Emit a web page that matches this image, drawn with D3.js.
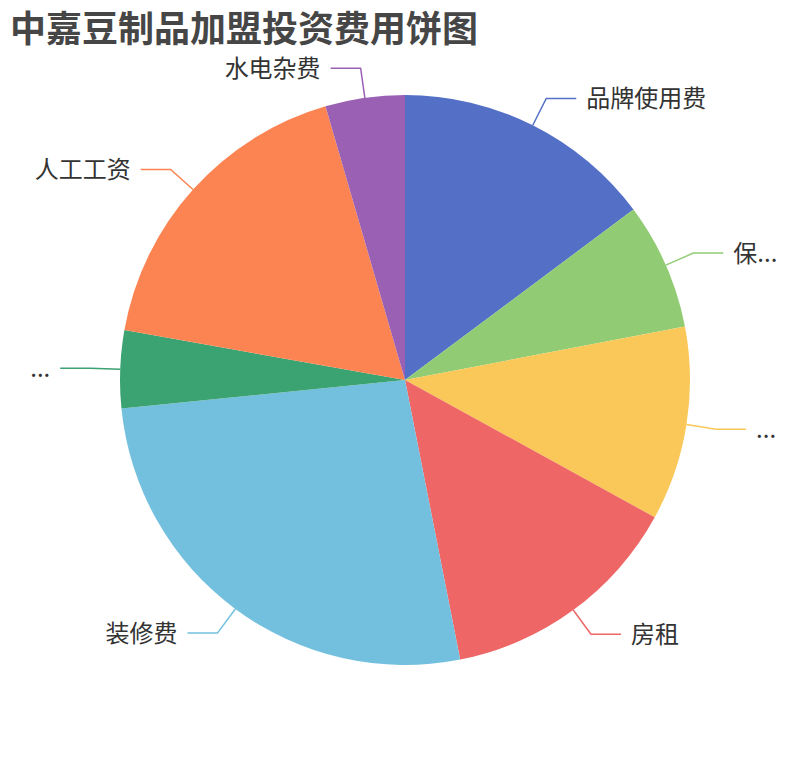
<!DOCTYPE html>
<html>
<head>
<meta charset="utf-8">
<script src="https://cdn.jsdelivr.net/npm/d3@7"></script>
<style>
  html, body { margin: 0; padding: 0; background: #fff; }
  svg { display: block; font-family: "Noto Sans CJK SC", "Noto Sans", sans-serif; }
</style>
</head>
<body>
<div id="chart"></div>
<script>
// --- 中嘉豆制品加盟投资费用饼图 ----------------------------------------------

const TITLE = '中嘉豆制品加盟投资费用饼图';

// labels as they appear (ECharts truncated the long ones)
const NAMES  = ['品牌使用费', '保...', '...', '房租', '装修费', '...', '人工工资', '水电杂费'];
// shares (per mille)
const VALUES = [148, 72, 110, 139, 265, 44, 177, 45];
const COLORS = ['#5470c6', '#91cc75', '#fac858', '#ee6666', '#73c0de', '#3ba272', '#fc8452', '#9a60b4'];

const W = 810, H = 760;
const CX = W / 2, CY = H / 2;
const R = 0.75 * Math.min(W, H) / 2;   // echarts default radius 75%
const LEN1 = 30, LEN2 = 30, GAP = 10;

const svg = d3.select('#chart').append('svg')
  .attr('width', W).attr('height', H)
  .attr('viewBox', `0 0 ${W} ${H}`);

svg.append('text')
  .attr('x', 10).attr('y', 26)
  .attr('dominant-baseline', 'central')
  .attr('font-size', 36)
  .attr('font-weight', 'bold')
  .attr('fill', '#464646')
  .text(TITLE);

const data = NAMES.map((name, i) => ({ name, value: VALUES[i], color: COLORS[i] }));

const pie = d3.pie().sort(null).value(d => d.value);
const arc = d3.arc().innerRadius(0).outerRadius(R);

const g = svg.append('g').attr('transform', `translate(${CX},${CY})`);

const slices = pie(data);

g.selectAll('path.slice')
  .data(slices)
  .join('path')
    .attr('class', 'slice')
    .attr('d', arc)
    .attr('fill', d => d.data.color);

// label lines: radial segment then horizontal one
const pt = (a, r) => [r * Math.sin(a), -r * Math.cos(a)];

slices.forEach(s => {
  const mid = (s.startAngle + s.endAngle) / 2;
  const p0 = pt(mid, R);
  const p1 = pt(mid, R + LEN1);
  const right = Math.sin(mid) >= 0;
  const p2 = [p1[0] + (right ? LEN2 : -LEN2), p1[1]];

  g.append('polyline')
    .attr('points', [p0, p1, p2].map(p => p.join(',')).join(' '))
    .attr('fill', 'none')
    .attr('stroke', s.data.color)
    .attr('stroke-width', 1.5);

  g.append('text')
    .attr('x', p2[0] + (right ? GAP : -GAP))
    .attr('y', p2[1] - 2)
    .attr('text-anchor', right ? 'start' : 'end')
    .attr('dominant-baseline', 'central')
    .attr('font-size', 24)
    .attr('fill', '#333')
    .text(s.data.name);
});
</script>
</body>
</html>
